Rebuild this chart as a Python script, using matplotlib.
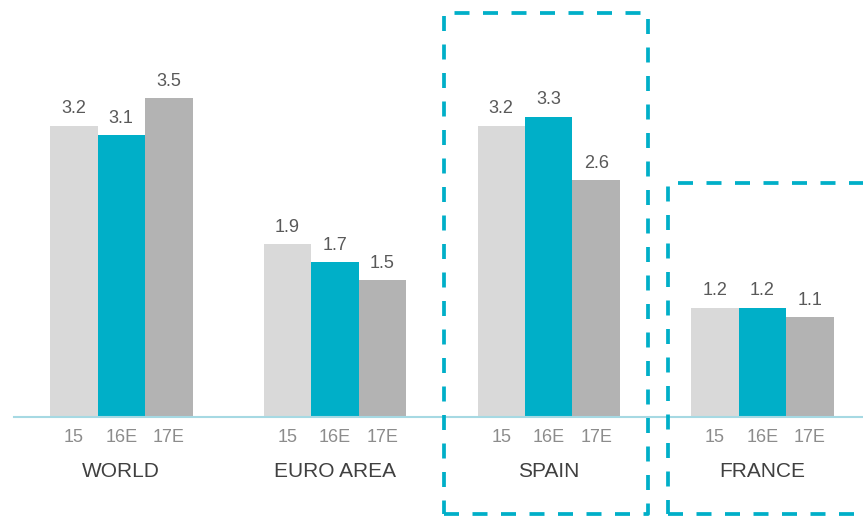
import matplotlib
matplotlib.use("Agg")
import matplotlib.pyplot as plt
from matplotlib.patches import Rectangle

regions = ["WORLD", "EURO AREA", "SPAIN", "FRANCE"]
years = ["15", "16E", "17E"]
growth_15 = [3.2, 1.9, 3.2, 1.2]
growth_16 = [3.1, 1.7, 3.3, 1.2]
growth_17 = [3.5, 1.5, 2.6, 1.1]

colors = ["#d9d9d9", "#00afc8", "#b3b3b3"]
W, H = 863, 516

plt.rcParams['font.family'] = ['Liberation Sans', 'DejaVu Sans']

fig = plt.figure(figsize=(W / 100, H / 100), dpi=100)
ax = fig.add_axes([0, 0, 1, 1])
ax.set_xlim(-1.553, 16.616)
ax.set_ylim(-1.088, 4.582)
ax.axis("off")

group_gap = 4.5
series = [growth_15, growth_16, growth_17]
for j, vals in enumerate(series):
    xs = [i * group_gap + j for i in range(len(regions))]
    bars = ax.bar(xs, vals, width=1.0, color=colors[j], zorder=2)
    for b, v in zip(bars, vals):
        ax.annotate(f"{v:.1f}", (b.get_x() + b.get_width() / 2, v),
                    xytext=(0, 6), textcoords="offset points",
                    ha="center", va="bottom", fontsize=13, color="#595959")
    for x in xs:
        ax.text(x, -0.22, years[j], ha="center", va="center",
                fontsize=13, color="#8c8c8c")

for i, name in enumerate(regions):
    ax.text(i * group_gap + 1, -0.6, name, ha="center", va="center",
            fontsize=15, color="#404040")

# baseline
ax.plot([-1.26, 16.616], [0, 0], color="#a6d9e3", lw=1.5, zorder=3)

# highlight boxes (pixel positions)
def px_box(x0, y0, x1, y1):
    return Rectangle((x0 / W, 1 - y1 / H), (x1 - x0) / W, (y1 - y0) / H,
                     transform=fig.transFigure, fill=False,
                     edgecolor="#00afc8", lw=2.7, linestyle=(0, (4.0, 3.6)),
                     joinstyle="round", zorder=5)

fig.patches.append(px_box(444, 13, 648, 514))
fig.patches.append(px_box(668, 183, 875, 514))

fig.savefig("out.png", dpi=100)
